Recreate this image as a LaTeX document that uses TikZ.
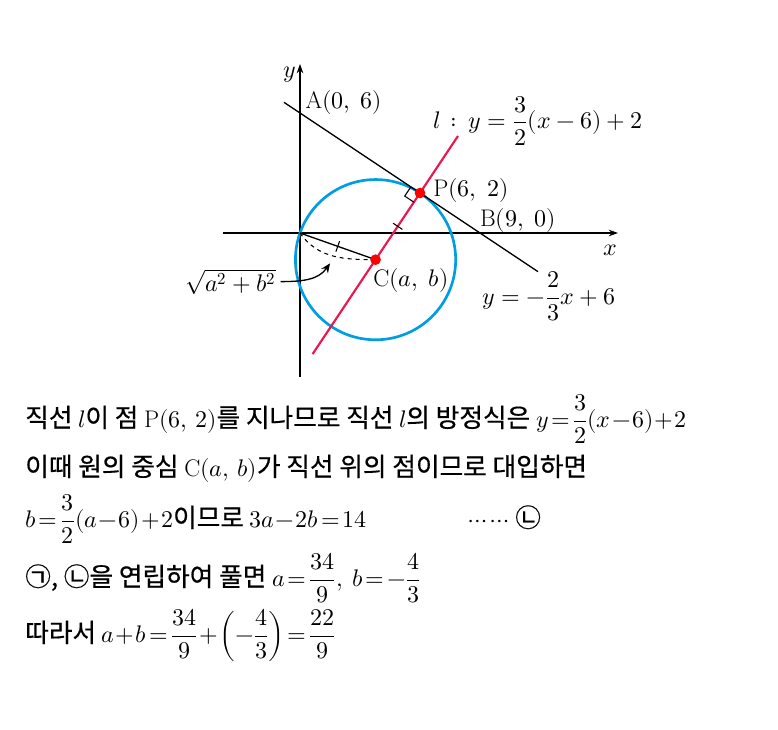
\documentclass[tikz,border=0pt]{standalone}
\usepackage{amsmath}
\usepackage{fontspec}
\usepackage{unicode-math}
\newfontfamily\kr[Scale=1.07,FakeBold=0.5]{Noto Sans CJK KR}
\newcommand\tightmath{\thickmuskip=2mu\relax\medmuskip=1mu\relax}
\usetikzlibrary{calc,arrows.meta}
\definecolor{circblue}{RGB}{0,158,224}
\definecolor{linered}{RGB}{232,24,82}
\begin{document}
\begin{tikzpicture}[x=15pt,y=15pt,
    lbl/.style={font=\fontsize{18}{21}\selectfont},
    txt/.style={anchor=base west,inner sep=0,font=\kr\fontsize{18}{22}\selectfont\tightmath},
    dot/.style={circle,fill=red,inner sep=0,minimum size=8pt},
    tick/.style={inner sep=0,minimum size=8pt}]
  \useasboundingbox (-15,11.65) rectangle (23.9,-24.8);
  \draw[line width=0.9pt,-{Stealth[length=7pt,width=5pt]}] (-3.85,0) -- (15.9,0);
  \draw[line width=0.9pt,-{Stealth[length=7pt,width=5pt]}] (0,-7.2) -- (0,8.45);
  \node[lbl] at (-0.5,7.9) {$y$};
  \node[lbl] at (15.5,-0.85) {$x$};
  \coordinate (O) at (0,0);
  \coordinate (P) at (6,2);
  \coordinate (C) at (34/9,-4/3);
  \coordinate (ab1) at (-0.8,{-2/3*(-0.8)+6});
  \coordinate (ab2) at (11.9,{-2/3*11.9+6});
  \coordinate (l1) at (0.63,{1.5*(0.63-6)+2});
  \coordinate (l2) at (7.9,{1.5*(7.9-6)+2});
  \draw[circblue,line width=2pt] (C) circle ({sqrt(34*34/81+16/9)});
  \draw[line width=1pt] (ab1) -- (ab2);
  \draw[linered,line width=1.6pt] (l1) -- (l2);
  \draw[line width=0.8pt] ($(P)+(-0.305,-0.458)$) -- ++(-0.458,0.305) -- ++(0.305,0.458);
  \draw[line width=1pt] (O) -- (C);
  \draw[dashed,line width=0.8pt] (O) to[out=-55,in=180] (C);
  \path (O) -- (C) node[midway,sloped,tick] (k1) {};
  \draw[line width=0.8pt] (k1.north) -- (k1.south);
  \path (C) -- (P) node[midway,sloped,tick] (k2) {};
  \draw[line width=0.8pt] (k2.north) -- (k2.south);
  \node[dot] at (P) {};
  \node[dot] at (C) {};
  \node[lbl] at (2.2,6.55) {$\mathrm{A}(0,\;6)$};
  \node[lbl] at (11.9,5.6) {$l\,:\,y=\dfrac{3}{2}(x-6)+2$};
  \node[lbl] at (8.55,2.15) {$\mathrm{P}(6,\;2)$};
  \node[lbl] at (10.9,0.65) {$\mathrm{B}(9,\;0)$};
  \node[lbl] at (5.55,-2.35) {$\mathrm{C}(a,\;b)$};
  \node[lbl] at (12.45,-3.18) {$y=-\dfrac{2}{3}x+6$};
  \node[lbl] (rt) at (-3.47,-2.43) {$\sqrt{a^2+b^2}$};
  \coordinate (tip) at (1.5,-1.52);
  \draw[line width=1pt,-{Stealth[length=7pt,width=6pt]}] (rt.east) to[out=0,in=-125] (tip);
  \node[txt] (s1) at (-13.75,-9.7) {직선 $l$이 점 $\mathrm{P}(6,\,2)$를 지나므로 직선 $l$의 방정식은 $y=\dfrac{3}{2}(x-6)+2$};
  \node[txt] (s2) at (-13.75,-12.15) {이때 원의 중심 $\mathrm{C}(a,\,b)$가 직선 위의 점이므로 대입하면};
  \node[txt] (s3) at (-13.75,-14.7) {$b=\dfrac{3}{2}(a-6)+2$이므로 $3a-2b=14$};
  \node[txt] (s3r) at (8.4,-14.7) {$\cdots\cdots$ ㉡};
  \node[txt] (s4) at (-13.75,-17.65) {㉠, ㉡을 연립하여 풀면 $a=\dfrac{34}{9},\ b=-\dfrac{4}{3}$};
  \node[txt] (s5) at (-13.75,-20.45) {따라서 $a+b=\dfrac{34}{9}+\left(-\dfrac{4}{3}\right)=\dfrac{22}{9}$};
\end{tikzpicture}
\end{document}
